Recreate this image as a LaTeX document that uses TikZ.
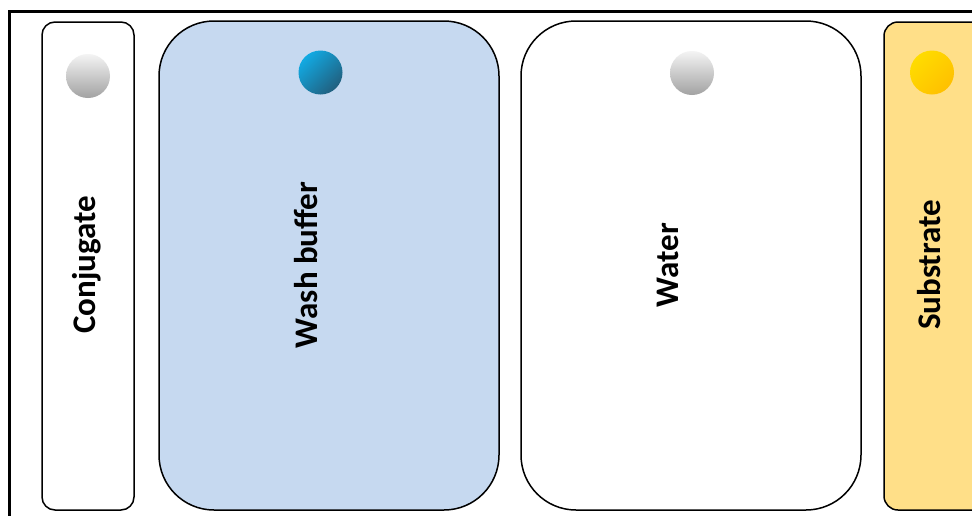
\documentclass[tikz,border=0pt]{standalone}
\usepackage{fontspec}
\setmainfont{Carlito}
\definecolor{washblue}{HTML}{C6D9F0}
\definecolor{subyellow}{HTML}{FFDF88}
\definecolor{balllight}{HTML}{F4F4F4}
\definecolor{balldark}{HTML}{A2A2A2}
\definecolor{bluelight}{HTML}{12AAE3}
\definecolor{bluedark}{HTML}{215F7E}
\definecolor{yellowlight}{HTML}{FFDC00}
\definecolor{yellowdark}{HTML}{FFC000}
\tikzset{
  panel/.style={draw=black, line width=1.5pt},
  label/.style={font=\bfseries\fontsize{33}{36}\selectfont, rotate=90, inner sep=0pt},
  grayball/.style={top color=balllight, bottom color=balldark, draw=none},
  blueball/.style={top color=bluelight, bottom color=bluedark, shading angle=45, draw=none},
  yellowball/.style={top color=yellowlight, bottom color=yellowdark, shading angle=45, draw=none}
}
\begin{document}
\begin{tikzpicture}[x=1pt, y=-1pt]
\useasboundingbox (0,0) rectangle (972,515);
\clip (0,0) rectangle (972,515);
\fill[white] (0,0) rectangle (972,515);
% outer frame
\draw[line width=3pt] (9.5,530) -- (9.5,11.5) -- (990,11.5);
% panels
\draw[panel, fill=white, rounded corners=13pt] (42,22) rectangle (134,510);
\draw[panel, fill=washblue, rounded corners=55pt] (159,21) rectangle (499,510);
\draw[panel, fill=white, rounded corners=55pt] (521,21) rectangle (861,510);
\draw[panel, fill=subyellow, rounded corners=14pt] (884,22) rectangle (1000,510);
% balls
\shade[grayball] (88,76) circle (22);
\shade[blueball] (320.5,72.5) circle (22);
\shade[grayball] (692,73) circle (22);
\shade[yellowball] (932,72.5) circle (22);
% labels
\node[label] (conj) at (87,265) {Conjugate};
\node[label] (wash) at (306,265) {Wash buffer};
\node[label] (water) at (668,265) {Water};
\node[label] (subs) at (929,265) {Substrate};
\end{tikzpicture}
\end{document}
